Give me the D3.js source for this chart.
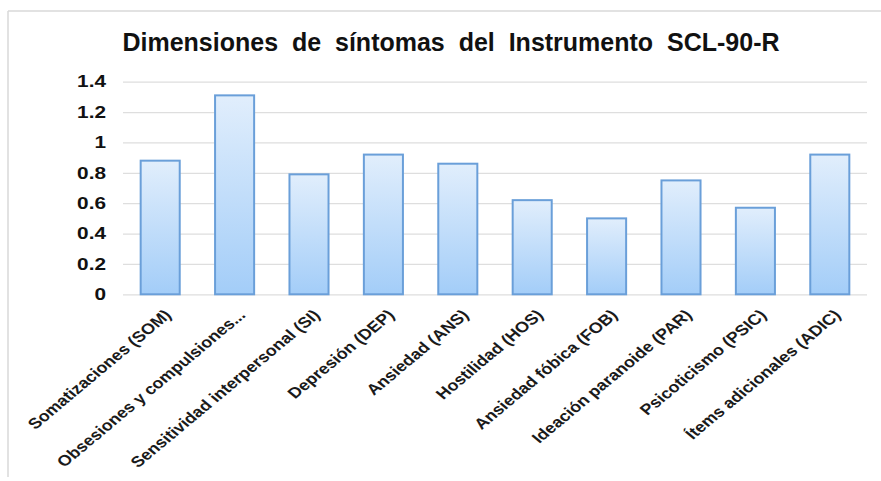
<!DOCTYPE html>
<html>
<head>
<meta charset="utf-8">
<script src="https://cdn.jsdelivr.net/npm/d3@7"></script>
<style>
  html, body { margin: 0; padding: 0; background: #fff; }
  svg { display: block; font-family: "Liberation Sans", Arial, sans-serif; }
</style>
</head>
<body>
<div id="chart"></div>
<script>
// Data
const categories = [
    "Somatizaciones (SOM)",
    "Obsesiones y compulsiones...",
    "Sensitividad interpersonal (SI)",
    "Depresión (DEP)",
    "Ansiedad (ANS)",
    "Hostilidad (HOS)",
    "Ansiedad fóbica (FOB)",
    "Ideación paranoide (PAR)",
    "Psicoticismo (PSIC)",
    "Ítems adicionales (ADIC)"
];
const values = [0.88, 1.31, 0.79, 0.92, 0.86, 0.62, 0.50, 0.75, 0.57, 0.92];
const yTicks = [0, 0.2, 0.4, 0.6, 0.8, 1, 1.2, 1.4];
const chartTitle = "Dimensiones  de  síntomas  del  Instrumento  SCL-90-R";

const width = 881, height = 481;
const plot = { left: 123, right: 867, top: 81.7, bottom: 294.3 };
const yStretch = 1.3; // tick labels are widened in the picture
const xStretch = 1.2; // category labels too, a bit less

const svg = d3.select("#chart").append("svg")
    .attr("width", width)
    .attr("height", height);

const defs = svg.append("defs");
const grad = defs.append("linearGradient")
    .attr("id", "barFill")
    .attr("x1", 0).attr("y1", 0).attr("x2", 0).attr("y2", 1);
grad.append("stop").attr("offset", "0%").attr("stop-color", "#e1eefc");
grad.append("stop").attr("offset", "100%").attr("stop-color", "#a3cdf8");

// chart frame (only top and left edges show)
svg.append("line")
    .attr("x1", 8).attr("y1", 11).attr("x2", width).attr("y2", 11)
    .attr("stroke", "#d9d9d9").attr("stroke-width", 1.5);
svg.append("line")
    .attr("x1", 8).attr("y1", 11).attr("x2", 8).attr("y2", 477)
    .attr("stroke", "#d9d9d9").attr("stroke-width", 1.5);

svg.append("text")
    .attr("x", 451)
    .attr("y", 51)
    .attr("text-anchor", "middle")
    .style("white-space", "pre")
    .style("font-size", "25px")
    .style("font-weight", "bold")
    .style("fill", "#111")
    .text(chartTitle);

const x = d3.scaleBand()
    .domain(categories)
    .range([plot.left, plot.right])
    .paddingInner(0.475)
    .paddingOuter(0.2375);

const y = d3.scaleLinear()
    .domain([0, 1.4])
    .range([plot.bottom, plot.top]);

// gridlines
svg.append("g")
    .attr("class", "grid")
    .attr("transform", `translate(${plot.left},0)`)
    .call(d3.axisLeft(y)
        .tickValues(yTicks)
        .tickSize(-(plot.right - plot.left))
        .tickFormat("")
    )
    .call(g => g.select(".domain").remove())
    .selectAll("line")
    .style("stroke", "#dedede")
    .style("stroke-width", 1.3);

// y tick labels
svg.append("g")
    .selectAll("text")
    .data(yTicks)
    .enter()
    .append("text")
    .attr("transform", d => `translate(106,${y(d)}) scale(${yStretch},1)`)
    .attr("dy", "0.36em")
    .attr("text-anchor", "end")
    .style("font-size", "16px")
    .style("font-weight", "bold")
    .style("fill", "#111")
    .text(d => String(d));

// bars
svg.selectAll(".bar")
    .data(values)
    .enter()
    .append("rect")
    .attr("class", "bar")
    .attr("x", (d, i) => x(categories[i]))
    .attr("y", d => y(d))
    .attr("width", x.bandwidth())
    .attr("height", d => y(0) - y(d))
    .attr("fill", "url(#barFill)")
    .attr("stroke", "#6a9fd9")
    .attr("stroke-width", 2);

// x labels, rotated
svg.append("g")
    .selectAll("text")
    .data(categories)
    .enter()
    .append("text")
    .attr("transform", d => `translate(${x(d) + x.bandwidth() / 2 + 12},316) scale(${xStretch},1) rotate(-45)`)
    .attr("text-anchor", "end")
    .style("font-size", "15px")
    .style("font-weight", "bold")
    .style("fill", "#1a1a1a")
    .text(d => d);
</script>
</body>
</html>
